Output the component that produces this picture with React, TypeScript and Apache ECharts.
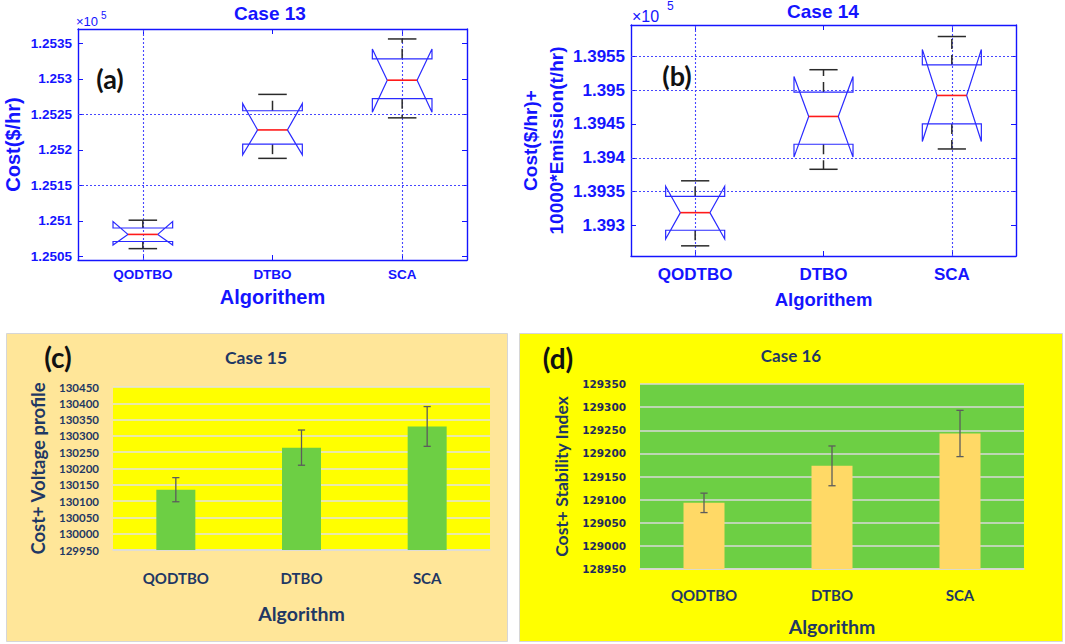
import React, { useEffect, useRef } from 'react';
import * as echarts from 'echarts';

// ---------- data ----------
const algorithms = ['QODTBO', 'DTBO', 'SCA'];

// Case 13 cost ($/hr) notched box statistics
const case13Min = [125061, 125188, 125245];
const case13Q1 = [125071, 125208, 125272];
const case13Median = [125081, 125228, 125298];
const case13Q3 = [125090, 125255, 125328];
const case13Max = [125101, 125278, 125356];
const case13NotchLow = [125066, 125193, 125253];
const case13NotchHigh = [125099, 125265, 125342];
const case13Ticks = [125050, 125100, 125150, 125200, 125250, 125300, 125350];
const case13GridY = [125150, 125250];
const case13GridX = ['QODTBO', 'SCA'];

// Case 14 cost + 10000*emission notched box statistics
const case14Min = [139270, 139383, 139413];
const case14Q1 = [139293, 139420, 139450];
const case14Median = [139319, 139461, 139492];
const case14Q3 = [139343, 139497, 139537];
const case14Max = [139366, 139530, 139579];
const case14NotchLow = [139280, 139401, 139424];
const case14NotchHigh = [139358, 139520, 139560];
const case14Ticks = [139300, 139350, 139400, 139450, 139500, 139550];
const case14GridY = [139350, 139400, 139500, 139550];
const case14GridX = ['QODTBO', 'SCA'];

// Case 15 cost + voltage profile
const case15Mean = [130135, 130264, 130329];
const case15Error = [37, 54, 61];

// Case 16 cost + stability index
const case16Mean = [129093, 129173, 129243];
const case16Error = [21, 43, 50];

// ---------- styles ----------
const BLUE = '#1414ff';
const NAVY = '#1f3864';
const MAT = 'Liberation Sans';

const boxItems = (mn: number[], q1: number[], md: number[], q3: number[], mx: number[], nl: number[], nh: number[]) =>
  algorithms.map((_, i) => [i, mn[i], q1[i], md[i], q3[i], mx[i], nl[i], nh[i]]);

const errItems = (mean: number[], err: number[]) =>
  algorithms.map((_, i) => [i, mean[i] - err[i], mean[i] + err[i]]);

const renderBox = (_params: any, api: any) => {
  const i = api.value(0);
  const c = (k: number) => api.coord([i, api.value(k)]);
  const cx = c(1)[0];
  const yMin = c(1)[1];
  const yQ1 = c(2)[1];
  const yMed = c(3)[1];
  const yQ3 = c(4)[1];
  const yMax = c(5)[1];
  const yNl = c(6)[1];
  const yNh = c(7)[1];
  const band = api.size([1, 0])[0];
  const hw = band * 0.23;
  const mw = band * 0.115;
  const cw = band * 0.11;
  const L = cx - hw;
  const R = cx + hw;
  const whisk = { stroke: '#2a2a2a', lineWidth: 1.5, lineDash: [10, 6] };
  const cap = { stroke: '#2a2a2a', lineWidth: 1.5 };
  return {
    type: 'group',
    children: [
      { type: 'line', shape: { x1: cx, y1: yQ3, x2: cx, y2: yMax }, style: whisk },
      { type: 'line', shape: { x1: cx, y1: yQ1, x2: cx, y2: yMin }, style: whisk },
      { type: 'line', shape: { x1: cx - cw, y1: yMax, x2: cx + cw, y2: yMax }, style: cap },
      { type: 'line', shape: { x1: cx - cw, y1: yMin, x2: cx + cw, y2: yMin }, style: cap },
      {
        type: 'polygon',
        shape: {
          points: [
            [L, yQ3], [L, yNh], [cx - mw, yMed], [L, yNl], [L, yQ1],
            [R, yQ1], [R, yNl], [cx + mw, yMed], [R, yNh], [R, yQ3],
          ],
        },
        style: { fill: 'none', stroke: '#2a2aff', lineWidth: 1.2 },
      },
      { type: 'line', shape: { x1: cx - mw, y1: yMed, x2: cx + mw, y2: yMed }, style: { stroke: '#ff1a1a', lineWidth: 1.6 } },
    ],
  };
};

const renderErr = (_params: any, api: any) => {
  const i = api.value(0);
  const lo = api.coord([i, api.value(1)]);
  const hi = api.coord([i, api.value(2)]);
  const w = 3.6;
  const st = { stroke: '#5c5c5c', lineWidth: 1.3 };
  return {
    type: 'group',
    children: [
      { type: 'line', shape: { x1: lo[0], y1: lo[1], x2: hi[0], y2: hi[1] }, style: st },
      { type: 'line', shape: { x1: lo[0] - w, y1: lo[1], x2: lo[0] + w, y2: lo[1] }, style: st },
      { type: 'line', shape: { x1: hi[0] - w, y1: hi[1], x2: hi[0] + w, y2: hi[1] }, style: st },
    ],
  };
};

const fmt5 = (v: number) => String(parseFloat((v / 1e5).toFixed(4)));
const plain = (v: number) => String(v);

const matX = (grid: number, pos: 'top' | 'bottom', show: boolean, fs: number, margin: number, name: string, nameFs: number, nameGap: number) => ({
  type: 'category',
  gridIndex: grid,
  data: algorithms,
  position: pos,
  axisLine: { show: true, onZero: false, lineStyle: { color: BLUE, width: 1.4 } },
  axisTick: { show: true, inside: true, alignWithLabel: true, length: 5, lineStyle: { color: BLUE, width: 1 } },
  axisLabel: { show, margin, color: BLUE, fontWeight: 'bold', fontSize: fs, fontFamily: MAT },
  splitLine: { show: false },
  name: show ? name : '',
  nameLocation: 'middle',
  nameGap,
  nameTextStyle: { color: BLUE, fontWeight: 'bold', fontSize: nameFs, fontFamily: MAT },
});

const matY = (grid: number, pos: 'left' | 'right', show: boolean, min: number, max: number, ticks: number[], fs: number, margin: number, name: string, nameFs: number, nameGap: number, lineHeight: number) => ({
  type: 'value',
  gridIndex: grid,
  position: pos,
  min,
  max,
  axisLine: { show: true, onZero: false, lineStyle: { color: BLUE, width: 1.4 } },
  axisTick: { show: true, inside: true, length: 5, customValues: ticks, lineStyle: { color: BLUE, width: 1 } },
  axisLabel: { show, margin, customValues: ticks, formatter: fmt5, color: BLUE, fontWeight: 'bold', fontSize: fs, fontFamily: MAT },
  splitLine: { show: false },
  name: show ? name : '',
  nameLocation: 'middle',
  nameRotate: 90,
  nameGap,
  nameTextStyle: { color: BLUE, fontWeight: 'bold', fontSize: nameFs, fontFamily: MAT, lineHeight, align: 'center' },
});

const gridLineSeries = (xi: number, yi: number, ys: number[], xs: string[]) => ({
  type: 'line',
  xAxisIndex: xi,
  yAxisIndex: yi,
  data: [],
  z: 1,
  silent: true,
  markLine: {
    silent: true,
    symbol: 'none',
    label: { show: false },
    lineStyle: { color: '#4646ff', type: [2, 2], width: 1.1 },
    data: [...ys.map((v) => ({ yAxis: v })), ...xs.map((c) => ({ xAxis: c }))],
  },
});

const txt = (x: number, y: number, text: string, font: string, fill: string, align = 'center') => ({
  type: 'text',
  x,
  y,
  z: 100,
  style: { text, font, fill, align, verticalAlign: 'middle', textAlign: align, textVerticalAlign: 'middle' },
});

export default function App() {
  const ref = useRef<HTMLDivElement>(null);
  useEffect(() => {
    if (!ref.current) return;
    const chart = echarts.init(ref.current, undefined, { renderer: 'svg' });
    const option: any = {
      animation: false,
      backgroundColor: '#ffffff',
      textStyle: { fontFamily: MAT },
      grid: [
        { left: 74, top: 29, width: 393, height: 231 },
        { left: 631, top: 25, width: 385, height: 231 },
        { left: 113, top: 387, width: 377, height: 163, show: true, backgroundColor: '#ffff00', borderWidth: 0 },
        { left: 640, top: 384, width: 384, height: 185, show: true, backgroundColor: '#6dcf44', borderWidth: 0 },
      ],
      xAxis: [
        matX(0, 'bottom', true, 13.5, 7, 'Algorithem', 20, 27),
        matX(0, 'top', false, 13.5, 7, '', 20, 27),
        matX(1, 'bottom', true, 17, 10, 'Algorithem', 18.5, 34),
        matX(1, 'top', false, 17, 10, '', 18.5, 34),
        {
          type: 'category', gridIndex: 2, data: algorithms,
          axisLine: { show: true, lineStyle: { color: '#dcdcdc', width: 1.5 } },
          axisTick: { show: false },
          axisLabel: { margin: 20, color: NAVY, fontWeight: 'bold', fontSize: 15, fontFamily: 'Lato' },
          name: 'Algorithm', nameLocation: 'middle', nameGap: 53.5,
          nameTextStyle: { color: NAVY, fontWeight: 'bold', fontSize: 19.5, fontFamily: 'Lato' },
        },
        {
          type: 'category', gridIndex: 3, data: algorithms,
          axisLine: { show: true, lineStyle: { color: '#d9d9d9', width: 1.5 } },
          axisTick: { show: false },
          axisLabel: { margin: 18, color: NAVY, fontWeight: 'bold', fontSize: 15, fontFamily: 'Lato' },
          name: 'Algorithm', nameLocation: 'middle', nameGap: 47,
          nameTextStyle: { color: NAVY, fontWeight: 'bold', fontSize: 19.5, fontFamily: 'Lato' },
        },
      ],
      yAxis: [
        matY(0, 'left', true, 125045, 125370, case13Ticks, 13.5, 6, 'Cost($/hr)', 20, 53, 24),
        matY(0, 'right', false, 125045, 125370, case13Ticks, 13.5, 6, '', 20, 53, 24),
        matY(1, 'left', true, 139255, 139596, case14Ticks, 17, 6, 'Cost($/hr)+\n10000*Emission(t/hr)', 19, 60, 26),
        matY(1, 'right', false, 139255, 139596, case14Ticks, 17, 6, '', 19, 60, 26),
        {
          type: 'value', gridIndex: 2, min: 129950, max: 130450, interval: 50,
          axisLine: { show: false }, axisTick: { show: false },
          splitLine: { show: true, lineStyle: { color: '#e2e2e2', width: 1.5 } },
          axisLabel: { margin: 14, formatter: plain, color: NAVY, fontWeight: 'bold', fontSize: 11.5, fontFamily: 'Lato' },
          name: 'Cost+ Voltage profile', nameLocation: 'middle', nameRotate: 90, nameGap: 66,
          nameTextStyle: { color: NAVY, fontWeight: 'bold', fontSize: 18.5, fontFamily: 'Lato' },
        },
        {
          type: 'value', gridIndex: 3, min: 128950, max: 129350, interval: 50,
          axisLine: { show: false }, axisTick: { show: false },
          splitLine: { show: true, lineStyle: { color: '#d9d9d9', width: 1.5 } },
          axisLabel: { margin: 14, formatter: plain, color: '#1f2a5c', fontWeight: 'bold', fontSize: 10.5, fontFamily: 'DejaVu Sans' },
          name: 'Cost+ Stability Index', nameLocation: 'middle', nameRotate: 90, nameGap: 70,
          nameTextStyle: { color: NAVY, fontWeight: 'bold', fontSize: 17.5, fontFamily: 'Lato' },
        },
      ],
      series: [
        gridLineSeries(0, 0, case13GridY, case13GridX),
        {
          type: 'custom', xAxisIndex: 0, yAxisIndex: 0, z: 5,
          data: boxItems(case13Min, case13Q1, case13Median, case13Q3, case13Max, case13NotchLow, case13NotchHigh),
          encode: { x: 0, y: [1, 2, 3, 4, 5, 6, 7] },
          renderItem: renderBox,
        },
        gridLineSeries(2, 2, case14GridY, case14GridX),
        {
          type: 'custom', xAxisIndex: 2, yAxisIndex: 2, z: 5,
          data: boxItems(case14Min, case14Q1, case14Median, case14Q3, case14Max, case14NotchLow, case14NotchHigh),
          encode: { x: 0, y: [1, 2, 3, 4, 5, 6, 7] },
          renderItem: renderBox,
        },
        {
          type: 'bar', xAxisIndex: 4, yAxisIndex: 4, data: case15Mean, barWidth: 39,
          itemStyle: { color: '#6dcf44' },
        },
        {
          type: 'custom', xAxisIndex: 4, yAxisIndex: 4, z: 5,
          data: errItems(case15Mean, case15Error),
          encode: { x: 0, y: [1, 2] },
          renderItem: renderErr,
        },
        {
          type: 'bar', xAxisIndex: 5, yAxisIndex: 5, data: case16Mean, barWidth: 41,
          itemStyle: { color: '#ffd966' },
        },
        {
          type: 'custom', xAxisIndex: 5, yAxisIndex: 5, z: 5,
          data: errItems(case16Mean, case16Error),
          encode: { x: 0, y: [1, 2] },
          renderItem: renderErr,
        },
      ],
      graphic: {
        elements: [
          { type: 'rect', z: -10, shape: { x: 6.5, y: 333.5, width: 501, height: 308 }, style: { fill: '#ffe699', stroke: '#d6d6d6', lineWidth: 1 } },
          { type: 'rect', z: -10, shape: { x: 519.5, y: 333.5, width: 543, height: 308 }, style: { fill: '#ffff00', stroke: '#d6d6d6', lineWidth: 1 } },
          txt(270, 13, 'Case 13', `bold 19px "${MAT}"`, BLUE),
          txt(823, 11, 'Case 14', `bold 19px "${MAT}"`, BLUE),
          txt(256, 357, 'Case 15', 'bold 17.5px Lato', NAVY),
          txt(791, 355, 'Case 16', 'bold 17px Lato', NAVY),
          txt(110, 78, '(a)', 'bold 27px Lato', '#111111'),
          txt(677, 75, '(b)', 'bold 27px Lato', '#111111'),
          txt(58, 357, '(c)', 'bold 28px Lato', '#111111'),
          txt(558, 358, '(d)', 'bold 28px Lato', '#111111'),
          txt(76, 21, '×10', `13px "${MAT}"`, BLUE, 'left'),
          txt(101, 15, '5', `10px "${MAT}"`, BLUE, 'left'),
          txt(632, 16, '×10', `16px "${MAT}"`, BLUE, 'left'),
          txt(667, 6, '5', `12px "${MAT}"`, BLUE, 'left'),
        ],
      },
    };
    chart.setOption(option);
    return () => chart.dispose();
  }, []);
  return (
    <div
      ref={ref}
      style={{ position: 'absolute', left: 0, top: 0, width: 1065, height: 644, background: '#ffffff' }}
    />
  );
}
